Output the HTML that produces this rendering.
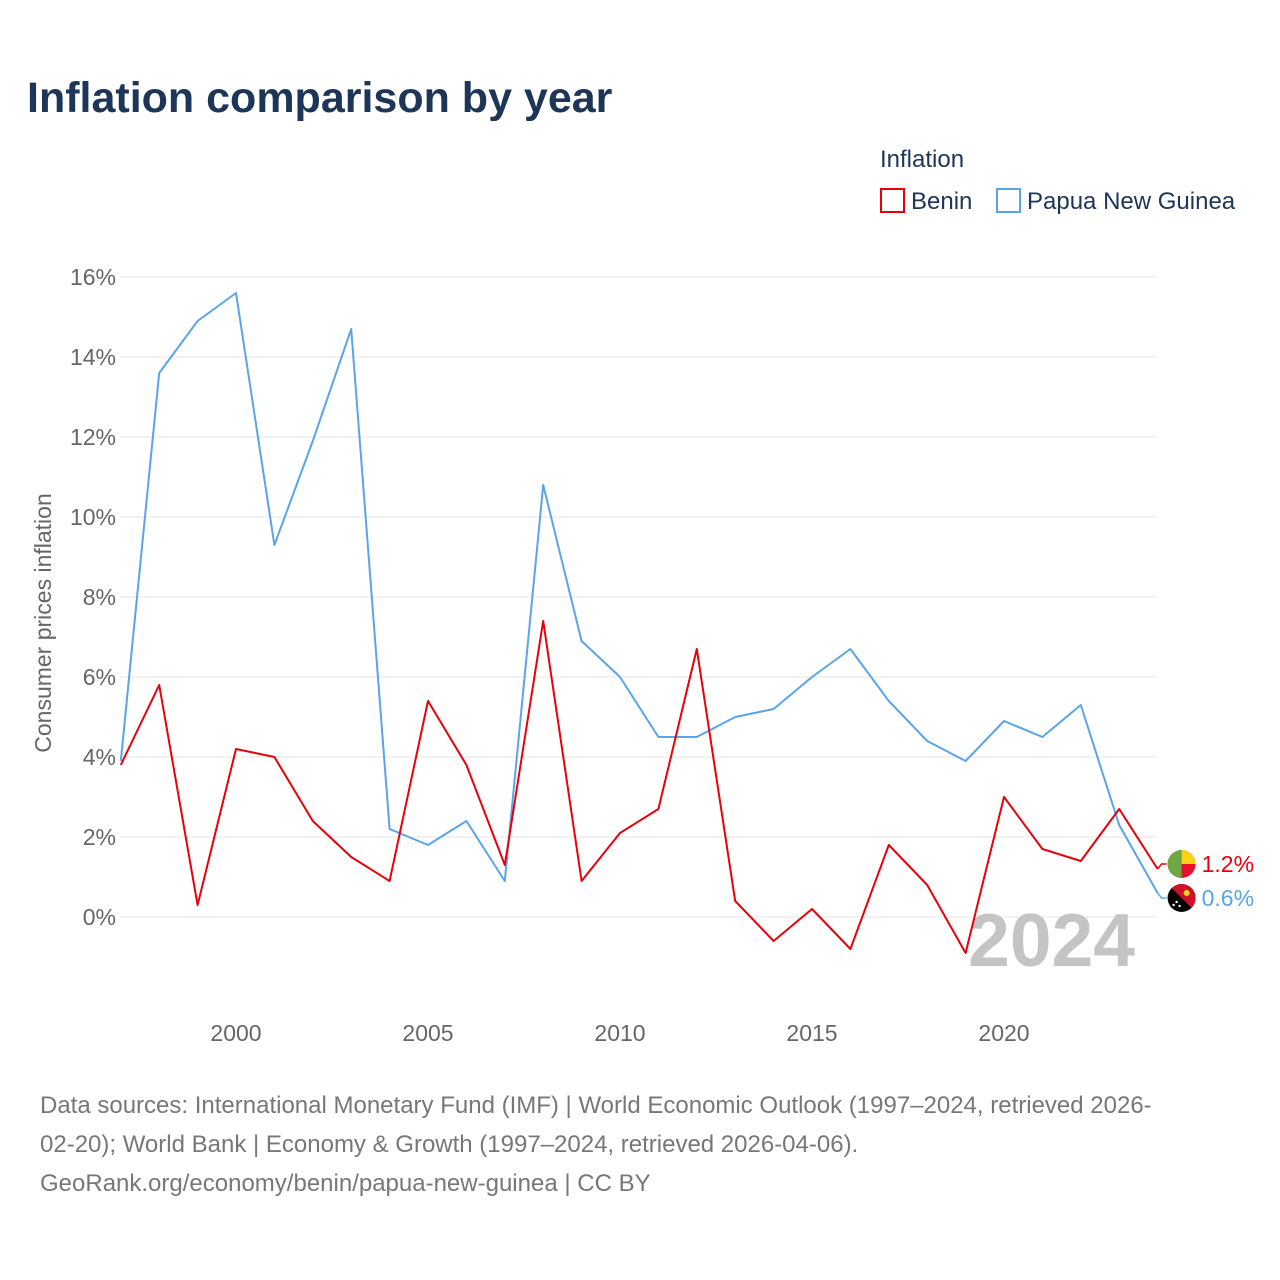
<!DOCTYPE html>
<html><head><meta charset="utf-8">
<style>
html,body{margin:0;padding:0;background:#fff;}
body{width:1280px;height:1280px;position:relative;font-family:"Liberation Sans",sans-serif;overflow:hidden;}
</style></head>
<body>
<svg id="chart" width="1280" height="1280" style="position:absolute;left:0;top:0">
<text x="27" y="112" font-size="43" font-weight="bold" fill="#1d3557">Inflation comparison by year</text>
<text x="880" y="167" font-size="24" fill="#1d3557">Inflation</text>
<g>
<rect x="881" y="189" width="23" height="23" fill="none" stroke="#e8000b" stroke-width="2"/>
<text x="911" y="209" font-size="24" fill="#1d3557">Benin</text></g>
<g>
<rect x="997" y="189" width="23" height="23" fill="none" stroke="#5aa5e8" stroke-width="2"/>
<text x="1027" y="209" font-size="24" fill="#1d3557">Papua New Guinea</text></g>
<g id="grid"></g>
<g id="yticks"></g>
<g id="xticks"></g>
<text transform="translate(51,623) rotate(-90)" text-anchor="middle" font-size="23" fill="#666">Consumer prices inflation</text>
<text x="1135" y="966" text-anchor="end" font-size="75" font-weight="bold" fill="#c4c4c4">2024</text>
<g id="series"></g>
<text x="40" y="1113" font-size="24" fill="#777">Data sources: International Monetary Fund (IMF) | World Economic Outlook (1997–2024, retrieved 2026-</text>
<text x="40" y="1152" font-size="24" fill="#777">02-20); World Bank | Economy &amp; Growth (1997–2024, retrieved 2026-04-06).</text>
<text x="40" y="1191" font-size="24" fill="#777">GeoRank.org/economy/benin/papua-new-guinea | CC BY</text>
</svg>
<script>
const years=[1997,1998,1999,2000,2001,2002,2003,2004,2005,2006,2007,2008,2009,2010,2011,2012,2013,2014,2015,2016,2017,2018,2019,2020,2021,2022,2023,2024];
const benin=[3.8,5.8,0.3,4.2,4.0,2.4,1.5,0.9,5.4,3.8,1.3,7.4,0.9,2.1,2.7,6.7,0.4,-0.6,0.2,-0.8,1.8,0.8,-0.9,3.0,1.7,1.4,2.7,1.2];
const png=[3.9,13.6,14.9,15.6,9.3,11.9,14.7,2.2,1.8,2.4,0.9,10.8,6.9,6.0,4.5,4.5,5.0,5.2,6.0,6.7,5.4,4.4,3.9,4.9,4.5,5.3,2.3,0.6];
const yTicks=[0,2,4,6,8,10,12,14,16];
const xTicks=[2000,2005,2010,2015,2020];
const NS="http://www.w3.org/2000/svg";
const X=y=>120.8+(y-1997)*38.4;
const Y=v=>917-v*40;
function mk(t,a,p){const e=document.createElementNS(NS,t);for(const k in a)e.setAttribute(k,a[k]);p.appendChild(e);return e;}
const grid=document.getElementById('grid'),yt=document.getElementById('yticks'),xt=document.getElementById('xticks'),ser=document.getElementById('series');
yTicks.forEach(v=>{
 const l=mk('line',{x1:120,x2:1157,y1:Y(v),y2:Y(v),stroke:'#e6e6e6','stroke-width':1},grid);
 
 
 const t=mk('text',{x:116,y:Y(v)+8,'text-anchor':'end','font-size':23,fill:'#666'},yt);
 t.textContent=v+'%';
 
 
});
xTicks.forEach(v=>{
 const t=mk('text',{x:X(v),y:1041,'text-anchor':'middle','font-size':23,fill:'#666'},xt);
 t.textContent=v;
 
 
});
function line(vals,color,name){
 const p=mk('polyline',{points:vals.map((v,i)=>X(years[i])+','+Y(v)).join(' '),fill:'none',stroke:color,'stroke-width':2,'stroke-linejoin':'round'},ser);
 
 
}
line(png,'#5aa5e8','line-papua-new-guinea');
line(benin,'#e8000b','line-benin');
const lb=benin[benin.length-1],lp=png[png.length-1];
const bx=X(2024);
// label positions (de-overlapped)
let yb=Y(lb),yp=Y(lp);
if(yp-yb<34){const m=(yb+yp)/2;yb=m-17;yp=m+17;}
const fx=bx+24;
mk('polyline',{points:`${bx},${Y(lb)} ${bx+4},${yb} ${bx+9},${yb}`,fill:'none',stroke:'#e8000b','stroke-width':1.5},ser);
mk('polyline',{points:`${bx},${Y(lp)} ${bx+4},${yp} ${bx+9},${yp}`,fill:'none',stroke:'#5aa5e8','stroke-width':1.5},ser);
const f1=mk('g',{},ser);
mk('circle',{cx:fx,cy:yb,r:14,fill:'#e8112d'},f1);
mk('path',{d:`M${fx},${yb-14} A14,14 0 0 1 ${fx+14},${yb} L${fx},${yb}Z`,fill:'#fcd116'},f1);
mk('path',{d:`M${fx},${yb-14} A14,14 0 0 0 ${fx},${yb+14}Z`,fill:'#6fa843'},f1);
const t1=mk('text',{x:bx+44,y:yb+8,'font-size':23,fill:'#e8000b'},ser);t1.textContent=lb.toFixed(1)+'%';

const f2=mk('g',{},ser);
const d=9.9;
mk('circle',{cx:fx,cy:yp,r:14,fill:'#000'},f2);
mk('path',{d:`M${fx-d},${yp-d} A14,14 0 0 1 ${fx+d},${yp+d}Z`,fill:'#ce1126'},f2);
mk('circle',{cx:fx+5,cy:yp-5,r:3,fill:'#fcd116'},f2);
mk('circle',{cx:fx-5,cy:yp+4,r:1.2,fill:'#fff'},f2);
mk('circle',{cx:fx-2,cy:yp+8,r:1.2,fill:'#fff'},f2);
mk('circle',{cx:fx-8,cy:yp+7,r:1.2,fill:'#fff'},f2);
const t2=mk('text',{x:bx+44,y:yp+8,'font-size':23,fill:'#5aa5e8'},ser);t2.textContent=lp.toFixed(1)+'%';

</script>
</body></html>
